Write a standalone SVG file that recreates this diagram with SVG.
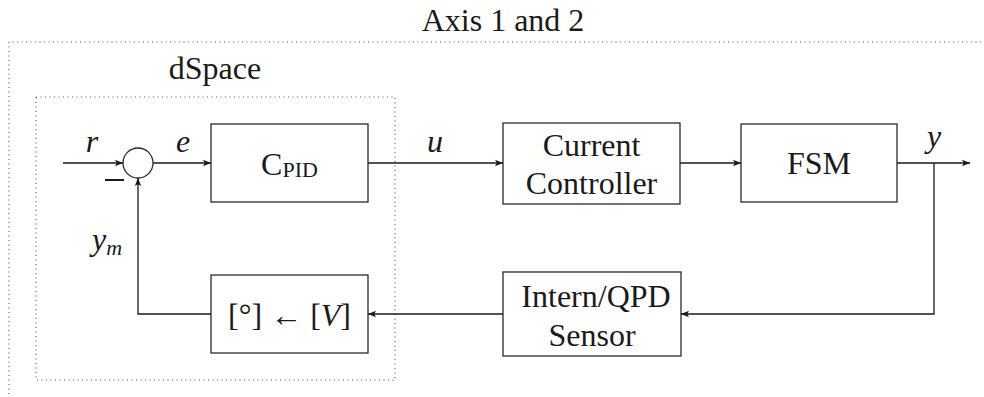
<svg xmlns="http://www.w3.org/2000/svg" width="984" height="397" viewBox="0 0 984 397">
<defs>
<marker id="ah" markerWidth="10" markerHeight="8" refX="8" refY="4" orient="auto" markerUnits="userSpaceOnUse">
<path d="M0,0.8 L8,4 L0,7.2 L1.8,4 Z" fill="#1a1a1a"/>
</marker>
</defs>
<g id="axis-frame">
<path d="M990 42 H9 V400" fill="none" stroke="#555" stroke-width="1.1" stroke-dasharray="1 3.5"/>
<text font-family="Times New Roman, Liberation Serif, serif" font-size="32" fill="#1a1a1a" x="503" y="31" text-anchor="middle">Axis 1 and 2</text>
</g>
<g id="dspace-frame">
<rect x="36" y="97" width="359" height="283" fill="none" stroke="#555" stroke-width="1.1" stroke-dasharray="1 3.5"/>
<text font-family="Times New Roman, Liberation Serif, serif" font-size="32" fill="#1a1a1a" x="215" y="79" text-anchor="middle">dSpace</text>
</g>
<g id="sum">
<circle cx="138" cy="163" r="15" fill="none" stroke="#2a2a2a" stroke-width="1.3"/>
<line x1="105" y1="180" x2="124" y2="180" stroke="#1a1a1a" stroke-width="2"/>
</g>
<g id="cpid">
<rect x="211" y="124" width="157" height="78" fill="none" stroke="#2a2a2a" stroke-width="1.3"/>
<text font-family="Times New Roman, Liberation Serif, serif" font-size="32" fill="#1a1a1a" x="289.5" y="175" text-anchor="middle">C<tspan font-size="22" dy="2">PID</tspan></text>
</g>
<g id="current-controller">
<rect x="503" y="123" width="177" height="81" fill="none" stroke="#2a2a2a" stroke-width="1.3"/>
<text font-family="Times New Roman, Liberation Serif, serif" font-size="32" fill="#1a1a1a" x="591.5" y="156" text-anchor="middle">Current</text>
<text font-family="Times New Roman, Liberation Serif, serif" font-size="32" fill="#1a1a1a" x="591.5" y="194" text-anchor="middle">Controller</text>
</g>
<g id="fsm">
<rect x="741" y="124" width="156" height="78" fill="none" stroke="#2a2a2a" stroke-width="1.3"/>
<text font-family="Times New Roman, Liberation Serif, serif" font-size="32" fill="#1a1a1a" x="819" y="174" text-anchor="middle">FSM</text>
</g>
<g id="sensor">
<rect x="503" y="272" width="178" height="84" fill="none" stroke="#2a2a2a" stroke-width="1.3"/>
<text font-family="Times New Roman, Liberation Serif, serif" font-size="32" fill="#1a1a1a" x="596" y="307" text-anchor="middle">Intern/QPD</text>
<text font-family="Times New Roman, Liberation Serif, serif" font-size="32" fill="#1a1a1a" x="592" y="346" text-anchor="middle">Sensor</text>
</g>
<g id="convert">
<rect x="211" y="275" width="157" height="78" fill="none" stroke="#2a2a2a" stroke-width="1.3"/>
<text font-family="Times New Roman, Liberation Serif, serif" font-size="32" fill="#1a1a1a" x="289.5" y="326" text-anchor="middle">[°] ← [<tspan font-style="italic">V</tspan>]</text>
</g>
<g id="connectors" fill="none" stroke="#1a1a1a" stroke-width="1.3">
<line x1="63" y1="163" x2="123" y2="163" marker-end="url(#ah)"/>
<line x1="153" y1="163" x2="211" y2="163" marker-end="url(#ah)"/>
<line x1="368" y1="163" x2="503" y2="163" marker-end="url(#ah)"/>
<line x1="680" y1="163" x2="741" y2="163" marker-end="url(#ah)"/>
<line x1="897" y1="163" x2="970" y2="163" marker-end="url(#ah)"/>
<polyline points="934,163 934,314 681,314" marker-end="url(#ah)"/>
<line x1="503" y1="314" x2="368" y2="314" marker-end="url(#ah)"/>
<polyline points="211,314 138,314 138,178" marker-end="url(#ah)"/>
</g>
<g id="labels">
<text font-family="Times New Roman, Liberation Serif, serif" font-size="32" fill="#1a1a1a" font-style="italic" x="92" y="152" text-anchor="middle">r</text>
<text font-family="Times New Roman, Liberation Serif, serif" font-size="32" fill="#1a1a1a" font-style="italic" x="183" y="152" text-anchor="middle">e</text>
<text font-family="Times New Roman, Liberation Serif, serif" font-size="32" fill="#1a1a1a" font-style="italic" x="435" y="152" text-anchor="middle">u</text>
<text font-family="Times New Roman, Liberation Serif, serif" font-size="32" fill="#1a1a1a" font-style="italic" x="934" y="147" text-anchor="middle">y</text>
<text font-family="Times New Roman, Liberation Serif, serif" font-size="32" fill="#1a1a1a" font-style="italic" x="92" y="250">y<tspan font-size="22" dy="5">m</tspan></text>
</g>
</svg>
